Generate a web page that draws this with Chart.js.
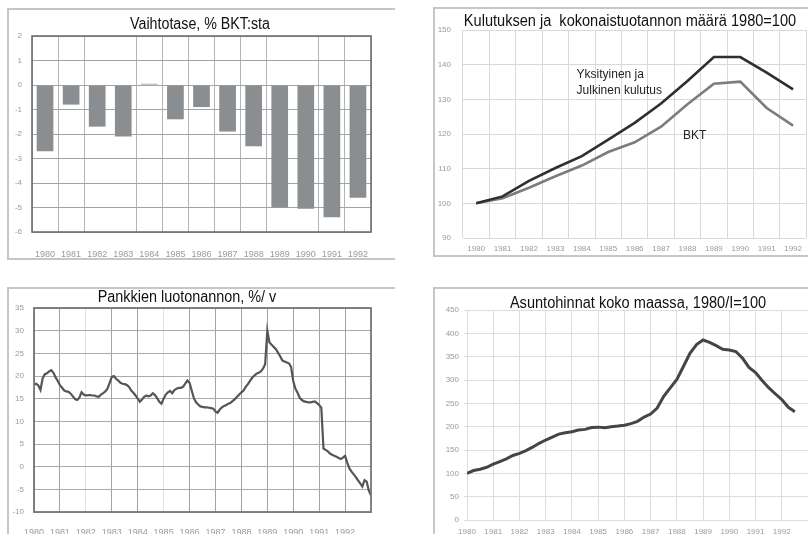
<!DOCTYPE html>
<html>
<head>
<meta charset="utf-8">
<script src="https://cdn.jsdelivr.net/npm/chart.js@4.4.1/dist/chart.umd.min.js"></script>
<style>
html, body { margin: 0; padding: 0; background: #fff; }
body { width: 808px; height: 534px; position: relative; overflow: hidden; }
.panel { position: absolute; box-sizing: border-box; border: 0 solid #c6c6c6; }
.panel canvas { display: block; }
#p1 { left: 7px; top: 8px; width: 388px; height: 252px; border-width: 2px 0 2px 2px; }
#p2 { left: 433px; top: 7px; width: 375px; height: 250px; border-width: 2px 0 2px 2px; }
#p3 { left: 7px; top: 287px; width: 388px; height: 275px; border-width: 2px 0 0 2px; }
#p4 { left: 433px; top: 287px; width: 375px; height: 275px; border-width: 2px 0 0 2px; }
</style>
</head>
<body>
<div class="panel" id="p1"><canvas id="balanceChart"></canvas></div>
<div class="panel" id="p2"><canvas id="volumeChart"></canvas></div>
<div class="panel" id="p3"><canvas id="creditChart"></canvas></div>
<div class="panel" id="p4"><canvas id="houseChart"></canvas></div>
<script>
const years = ["1980", "1981", "1982", "1983", "1984", "1985", "1986", "1987", "1988", "1989", "1990", "1991", "1992"];
const yearTicks = [1980, 1981, 1982, 1983, 1984, 1985, 1986, 1987, 1988, 1989, 1990, 1991, 1992];

// Vaihtotase, % BKT:sta
const balanceValues = [-2.7, -0.8, -1.7, -2.1, 0.05, -1.4, -0.9, -1.9, -2.5, -5.0, -5.05, -5.4, -4.6];

// Kulutus ja BKT, 1980=100
const consumptionValues = [100, 102, 106.5, 110.2, 113.6, 118.4, 123.2, 128.8, 135.3, 142.2, 142.2, 137.7, 132.9];
const gdpValues = [100, 101.5, 104.5, 107.8, 110.9, 114.8, 117.6, 122.1, 128.6, 134.5, 135.1, 127.5, 122.4];

// Pankkien luotonanto, %/v, kuukausittain 1/1980 alkaen
const creditStart = 1980;
const creditValues = [
    18.1, 18.3, 17.9, 16.9, 19.5, 20.4, 20.6, 21.0, 21.3, 20.7, 19.7, 18.9,
    18.0, 17.4, 16.8, 16.6, 16.5, 16.1, 15.5, 14.9, 14.7, 15.2, 16.4, 15.9,
    15.7, 15.8, 15.8, 15.7, 15.7, 15.5, 15.4, 15.9, 16.2, 16.6, 17.2, 18.5,
    19.8, 20.0, 19.4, 19.0, 18.5, 18.3, 18.2, 18.0, 17.6, 16.8, 16.3, 15.7,
    15.0, 14.3, 14.8, 15.4, 15.7, 15.5, 15.7, 16.2, 15.8, 15.1, 14.3, 13.9,
    15.0, 15.9, 16.4, 16.7, 16.2, 16.9, 17.2, 17.4, 17.4, 17.6, 18.3, 19.0,
    18.5, 16.8, 15.1, 14.2, 13.7, 13.3, 13.2, 13.1, 13.1, 13.0, 12.9, 12.8,
    12.2, 11.9, 12.6, 13.1, 13.4, 13.6, 13.9, 14.1, 14.5, 14.9, 15.4, 15.9,
    16.4, 16.8, 17.6, 18.2, 18.9, 19.6, 20.1, 20.5, 20.7, 21.0, 21.6, 22.6,
    30.0, 27.4, 26.9, 26.4, 25.9, 25.1, 24.3, 23.4, 23.2, 23.0, 22.8, 22.0,
    18.9, 17.2, 16.3, 15.2, 14.7, 14.4, 14.3, 14.2, 14.2, 14.3, 14.4, 14.0,
    13.6, 13.0, 4.0, 3.7, 3.4, 2.9, 2.6, 2.4, 2.2, 1.9, 1.7, 2.0,
    2.4, 0.9, -0.4, -1.1, -1.7, -2.3, -3.0, -3.7, -4.4, -3.0, -3.3, -5.3, -6.3,
];

// Asuntohinnat, 1980/I=100, neljännesvuosittain
const houseStart = 1980;
const houseValues = [
    100, 106, 108.8, 113, 119.5, 125.2, 131, 138.3, 142.9, 148.6,
    156, 164.3, 171.4, 177.5, 184, 187, 189.2, 192.7, 194.2, 198.2,
    199, 197.5, 199.8, 201.2, 203.2, 206.5, 211.5, 220.7, 227, 240,
    265, 283, 301, 329, 357, 376, 385.7, 380.5, 373.5, 366,
    364.3, 361, 347, 327, 316, 299, 283.5, 270.5, 258, 241.5, 232,
];

Chart.defaults.font.family = "'Liberation Sans', Arial, sans-serif";
Chart.defaults.color = "#9a9a9a";
Chart.defaults.animation = false;

const TITLE_FONT = "16px 'Liberation Sans', Arial, sans-serif";
const NOTE_FONT = "12px 'Liberation Sans', Arial, sans-serif";

// texts drawn at fixed canvas spots or at data coordinates
const panelText = {
    id: "panelText",
    afterDraw(chart, args, opts) {
        const ctx = chart.ctx;
        (opts.items || []).forEach((t) => {
            const x = t.xv !== undefined ? chart.scales.x.getPixelForValue(t.xv) : t.x;
            const y = t.yv !== undefined ? chart.scales.y.getPixelForValue(t.yv) : t.y;
            const sx = t.squeeze || 1;
            ctx.save();
            ctx.translate(x, y);
            ctx.scale(sx, 1);
            ctx.font = t.font || TITLE_FONT;
            ctx.fillStyle = t.color || "#111";
            ctx.textAlign = t.align || "center";
            ctx.textBaseline = "middle";
            ctx.fillText(t.text, 0, 0);
            ctx.restore();
        });
    },
};

const plotFrame = {
    id: "plotFrame",
    afterDatasetsDraw(chart, args, opts) {
        if (!opts.color) return;
        const { left, top, right, bottom } = chart.chartArea;
        const ctx = chart.ctx;
        ctx.save();
        ctx.strokeStyle = opts.color;
        ctx.lineWidth = opts.width || 1.5;
        ctx.strokeRect(left, top, right - left, bottom - top);
        ctx.restore();
    },
};

Chart.register(panelText, plotFrame);

const fixWidth = (w) => (scale) => { scale.width = w; };
const fixHeight = (h) => (scale) => { scale.height = h; };
const onlyYears = (scale) => { scale.ticks = yearTicks.map((v) => ({ value: v })); };

function initBalanceChart() {
    new Chart(document.getElementById("balanceChart"), {
        type: "bar",
        data: {
            labels: years,
            datasets: [{
                data: balanceValues,
                backgroundColor: "#8b8e91",
                borderWidth: 0,
                barPercentage: 0.64,
                categoryPercentage: 1,
            }],
        },
        options: {
            responsive: true,
            maintainAspectRatio: false,
            layout: { padding: { top: 26, right: 24, left: 0, bottom: 0 } },
            plugins: {
                legend: { display: false },
                tooltip: { enabled: false },
                plotFrame: { color: "#6f6f6f", width: 1.6 },
                panelText: { items: [{ text: "Vaihtotase, % BKT:sta", x: 191, y: 15, squeeze: 0.89 }] },
            },
            scales: {
                x: {
                    afterFit: fixHeight(26),
                    border: { display: false },
                    grid: {
                        offset: true,
                        drawTicks: false,
                        color: (c) => (c.index === 3 || c.index === 10 ? "rgba(0,0,0,0)" : "#b4b4b4"),
                    },
                    ticks: { padding: 17, font: { size: 9 } },
                },
                y: {
                    min: -6,
                    max: 2,
                    afterFit: fixWidth(23),
                    border: { display: false },
                    grid: { drawTicks: false, color: "#a4a4a4" },
                    ticks: { stepSize: 1, padding: 10, font: { size: 8 } },
                },
            },
        },
    });
}

function initVolumeChart() {
    new Chart(document.getElementById("volumeChart"), {
        type: "line",
        data: {
            labels: years,
            datasets: [
                { data: consumptionValues, borderColor: "#2f2f2f", borderWidth: 2.6, pointRadius: 0, tension: 0 },
                { data: gdpValues, borderColor: "#7c7c7c", borderWidth: 2.6, pointRadius: 0, tension: 0 },
            ],
        },
        options: {
            responsive: true,
            maintainAspectRatio: false,
            layout: { padding: { top: 21, right: 0, left: 0, bottom: 0 } },
            plugins: {
                legend: { display: false },
                tooltip: { enabled: false },
                panelText: {
                    items: [
                        { text: "Kulutuksen ja  kokonaistuotannon määrä 1980=100", x: 195, y: 13, squeeze: 0.91 },
                        { text: "Yksityinen ja", xv: 3.8, yv: 137.0, align: "left", font: NOTE_FONT, color: "#222" },
                        { text: "Julkinen kulutus", xv: 3.8, yv: 132.4, align: "left", font: NOTE_FONT, color: "#222" },
                        { text: "BKT", xv: 7.83, yv: 119.4, align: "left", font: NOTE_FONT, color: "#222" },
                    ],
                },
            },
            scales: {
                x: {
                    offset: true,
                    afterFit: fixHeight(17),
                    border: { display: false },
                    grid: { offset: true, drawTicks: false, color: "#d9d9d9" },
                    ticks: { padding: 6, font: { size: 8 } },
                },
                y: {
                    min: 90,
                    max: 150,
                    afterFit: fixWidth(28),
                    border: { display: false },
                    grid: { drawTicks: false, color: "#d9d9d9" },
                    ticks: { stepSize: 10, padding: 12, font: { size: 8 } },
                },
            },
        },
    });
}

function initCreditChart() {
    const points = creditValues.map((v, i) => ({ x: creditStart + i / 12, y: v }));
    const lightYears = [1982, 1985];
    new Chart(document.getElementById("creditChart"), {
        type: "line",
        data: {
            datasets: [{ data: points, borderColor: "#555555", borderWidth: 2.2, pointRadius: 0, tension: 0 }],
        },
        options: {
            responsive: true,
            maintainAspectRatio: false,
            layout: { padding: { top: 19, right: 24, left: 0, bottom: 0 } },
            plugins: {
                legend: { display: false },
                tooltip: { enabled: false },
                plotFrame: { color: "#767676", width: 1.8 },
                panelText: { items: [{ text: "Pankkien luotonannon, %/ v", x: 178, y: 8.5, squeeze: 0.9 }] },
            },
            scales: {
                x: {
                    type: "linear",
                    min: 1980,
                    max: 1993,
                    afterBuildTicks: onlyYears,
                    afterFit: fixHeight(50),
                    border: { display: false },
                    grid: {
                        drawTicks: false,
                        color: (c) => (c.tick && lightYears.includes(c.tick.value) ? "#e2e2e2" : "#a2a2a2"),
                    },
                    ticks: { padding: 15, font: { size: 9 }, callback: (v) => String(v) },
                },
                y: {
                    min: -10,
                    max: 35,
                    afterFit: fixWidth(23),
                    border: { display: false },
                    grid: { drawTicks: false, color: "#ababab" },
                    ticks: { stepSize: 5, padding: 10, font: { size: 8 } },
                },
            },
        },
    });
}

function initHouseChart() {
    const points = houseValues.map((v, i) => ({ x: houseStart + i / 4, y: v }));
    new Chart(document.getElementById("houseChart"), {
        type: "line",
        data: {
            datasets: [{ data: points, borderColor: "#454545", borderWidth: 3, pointRadius: 0, tension: 0 }],
        },
        options: {
            responsive: true,
            maintainAspectRatio: false,
            layout: { padding: { top: 21, right: 0, left: 0, bottom: 0 } },
            plugins: {
                legend: { display: false },
                tooltip: { enabled: false },
                panelText: { items: [{ text: "Asuntohinnat koko maassa, 1980/I=100", x: 203, y: 15, squeeze: 0.91 }] },
            },
            scales: {
                x: {
                    type: "linear",
                    min: 1980,
                    max: 1993,
                    afterBuildTicks: onlyYears,
                    afterFit: fixHeight(42),
                    border: { display: false },
                    grid: { drawTicks: false, color: "#dddddd" },
                    ticks: { padding: 7, font: { size: 8 }, callback: (v) => String(v) },
                },
                y: {
                    min: 0,
                    max: 450,
                    afterFit: fixWidth(32),
                    border: { display: false },
                    grid: { tickLength: 3, color: "#dddddd" },
                    ticks: { stepSize: 50, padding: 5, font: { size: 8 } },
                },
            },
        },
    });
}

document.addEventListener("DOMContentLoaded", () => {
    initBalanceChart();
    initVolumeChart();
    initCreditChart();
    initHouseChart();
});
</script>
</body>
</html>
